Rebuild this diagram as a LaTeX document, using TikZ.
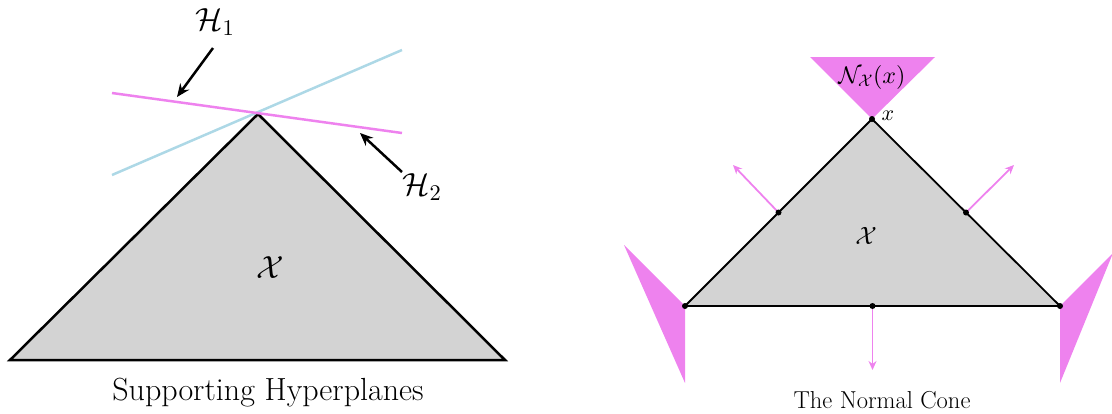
\documentclass[tikz,border=0pt]{standalone}
\DeclareFontShape{OMS}{cmsy}{m}{n}{<-6>cmsy5<6-8>cmsy7<8->cmsy10}{}
\DeclareFontShape{OML}{cmm}{m}{it}{<-6>cmmi5<6-8>cmmi7<8->cmmi10}{}
\DeclareFontShape{OT1}{cmr}{m}{n}{<-6>cmr5<6-8>cmr7<8->cmr10}{}
\usetikzlibrary{arrows.meta}
\definecolor{conecol}{HTML}{EE82EE}
\definecolor{hbluecol}{HTML}{ADD8E6}
\definecolor{setgray}{HTML}{D3D3D3}
\begin{document}
\begin{tikzpicture}[x=1pt,y=-1pt,
  hplane/.style={line width=2.5pt},
  blackarrow/.style={line width=2.5pt,-{Stealth[length=13pt,width=11pt]}},
  normalarrow/.style={conecol,line width=1.8pt,-{Stealth[length=9pt,width=8pt]}},
  dotpt/.style={circle,fill=black,inner sep=0pt,minimum size=6pt},
  conefill/.style={fill=conecol,draw=none},
  lbl/.style={inner sep=1pt}]
\useasboundingbox (0,0) rectangle (1112,413);
% ---------- left picture ----------
\coordinate (A) at (10,360);
\coordinate (B) at (505,360);
\coordinate (C) at (258,114);
\fill[setgray] (A) -- (B) -- (C) -- cycle;
\draw[line width=2.5pt,line join=miter] (A) -- (B) -- (C) -- cycle;
\coordinate (h1a) at (112,93);
\coordinate (h1b) at (402,133);
\coordinate (h2a) at (112,175);
\coordinate (h2b) at (402,50);
\draw[hplane,hbluecol] (h2a) -- (h2b);
\draw[hplane,conecol] (h1a) -- (h1b);
\node[lbl] (H1) at (215,22) {\fontsize{32}{36}\selectfont$\mathcal{H}_1$};
\node[lbl] (H2) at (422,187) {\fontsize{32}{36}\selectfont$\mathcal{H}_2$};
\coordinate (a1s) at (213,48);
\coordinate (a1e) at (177,97);
\coordinate (a2s) at (402,172);
\coordinate (a2e) at (360,133);
\draw[blackarrow] (a1s) -- (a1e);
\draw[blackarrow] (a2s) -- (a2e);
\node[lbl] (XL) at (270,268) {\fontsize{32}{36}\selectfont$\mathcal{X}$};
\node[lbl] (capL) at (268,393) {\fontsize{32}{36}\selectfont Supporting Hyperplanes};
% ---------- right picture ----------
\coordinate (P) at (685,306);
\coordinate (Q) at (1060,306);
\coordinate (R) at (872,119);
% cones
\fill[conefill] (810,57) -- (935,57) -- (R) -- cycle;
\fill[conefill] (P) -- (624,245) -- (685,383) -- cycle;
\fill[conefill] (Q) -- (1113,253) -- (1060,383) -- cycle;
\fill[setgray] (P) -- (Q) -- (R) -- cycle;
\draw[line width=1.8pt,line join=miter] (P) -- (Q) -- (R) -- cycle;
\coordinate (mL) at (778.5,212.5);
\coordinate (mR) at (966,212.5);
\coordinate (mB) at (872.5,306);
\coordinate (eL) at (733,165);
\coordinate (eR) at (1014,165);
\coordinate (eB) at (872.5,370);
\draw[normalarrow] (mL) -- (eL);
\draw[normalarrow] (mR) -- (eR);
\draw[normalarrow] (mB) -- (eB);
\node[dotpt] (dP) at (P) {};
\node[dotpt] (dQ) at (Q) {};
\node[dotpt] (dR) at (R) {};
\node[dotpt] (dmL) at (mL) {};
\node[dotpt] (dmR) at (mR) {};
\node[dotpt] (dmB) at (mB) {};
\node[lbl] (Nlab) at (872,77) {\fontsize{24}{28}\selectfont$\mathcal{N}_{\mathcal{X}}(x)$};
\node[lbl] (xlab) at (888,116) {\fontsize{22}{26}\selectfont$x$};
\node[lbl] (XR) at (866,236) {\fontsize{25}{29}\selectfont$\mathcal{X}$};
\node[lbl] (capR) at (882,400) {\fontsize{24.5}{29}\selectfont The Normal Cone};
\end{tikzpicture}
\end{document}
